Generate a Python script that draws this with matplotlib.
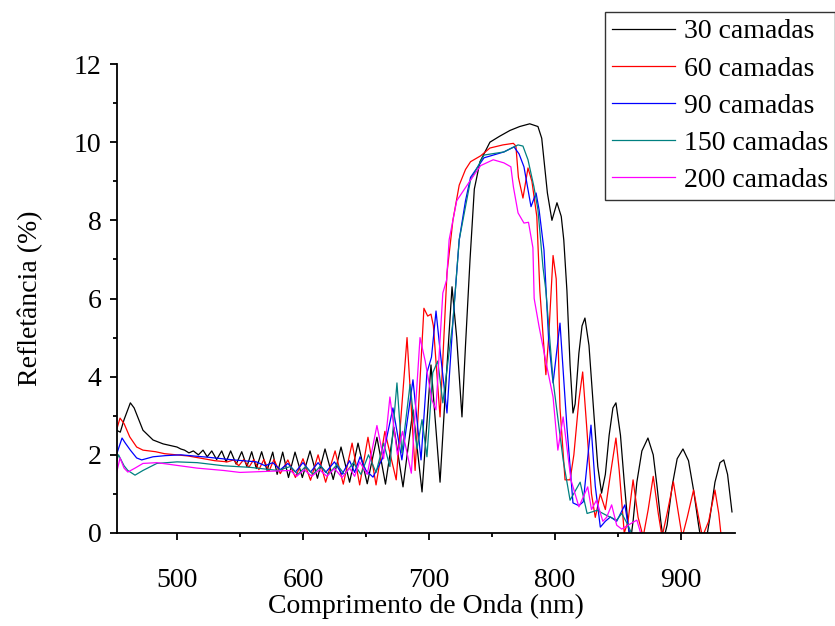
import matplotlib.pyplot as plt
from matplotlib.ticker import MultipleLocator

# comprimento de onda (nm) e refletancia (%)
wl_30 = [452, 455, 458, 463, 466, 473, 481, 489, 500, 503, 506, 509.5, 513, 517,
         520.7, 524, 527.6, 531.5, 535.5, 539, 542.6, 547, 551.4, 555.5, 559.3,
         563, 567.2, 571.5, 576, 579.5, 583.9, 588.5, 593.7, 599.5, 605.6, 611.5,
         617.5, 624, 630.2, 637, 643.7, 651, 658.7, 665.5, 672.2, 679.4, 687.3,
         694.5, 701.6, 708.8, 713, 718.3, 722, 726.2, 729, 732.6, 736, 740.5,
         748.4, 756, 764.3, 772, 780, 786.5, 789.5, 794, 797.6, 801.6, 805, 807,
         809.5, 812, 814.3, 816, 819, 821.5, 823.8, 827, 831, 834, 837, 840, 843,
         846, 848.4, 852, 855, 858, 860, 862, 865, 869, 873.8, 878, 881, 884, 886,
         889, 893, 897, 901.6, 906, 910, 914, 916, 920, 923, 927, 931, 934, 937,
         940.5]
r_30 = [2.63, 2.58, 2.9, 3.33, 3.2, 2.63, 2.38, 2.28, 2.2, 2.15, 2.12, 2.05, 2.1,
        2.0, 2.12, 1.95, 2.1, 1.88, 2.1, 1.82, 2.1, 1.76, 2.08, 1.7, 2.08, 1.65,
        2.08, 1.6, 2.07, 1.5, 2.07, 1.42, 2.07, 1.42, 2.1, 1.4, 2.15, 1.37, 2.2,
        1.3, 2.3, 1.26, 2.45, 1.25, 2.7, 1.18, 3.15, 1.05, 4.3, 1.3, 3.6, 6.3, 5.0,
        2.97, 4.8, 7.0, 8.8, 9.5, 10.0, 10.15, 10.3, 10.4, 10.47, 10.4, 10.1, 8.7,
        8.0, 8.45, 8.1, 7.5, 6.2, 4.3, 3.07, 3.3, 4.6, 5.3, 5.5, 4.8, 3.0, 1.7,
        1.02, 1.5, 2.5, 3.2, 3.33, 2.5, 1.3, 0.2, -0.2, 0.3, 1.3, 2.1, 2.43, 2.0,
        1.2, 0.3, -0.2, 0.2, 1.2, 1.9, 2.15, 1.85, 1.1, 0.2, -0.2, -0.2, 0.4, 1.3,
        1.8, 1.87, 1.5, 0.54]

wl_60 = [452, 454.8, 458, 462.5, 468, 473, 483, 490, 509, 530, 540, 545, 549, 553,
         557, 561, 565, 569, 573, 577, 582, 588, 594, 600, 606, 612, 618, 625.5,
         632, 639, 645, 651.6, 658, 665, 674, 682.6, 689, 696, 699, 701.6, 703.5,
         708.8, 714.3, 719, 724, 729, 733, 741, 748.4, 758.7, 767, 769, 771, 774.6,
         778.6, 781.7, 785.6, 788, 792.8, 795, 798.5, 801, 804, 808, 812, 815, 819,
         822, 825, 829, 832, 836, 840, 844, 848.4, 851, 855, 858, 862, 866, 870,
         874, 878, 882, 885, 889, 894, 898, 901, 905, 910, 914, 917, 922, 927, 930,
         932]
r_60 = [2.63, 2.94, 2.8, 2.46, 2.2, 2.12, 2.08, 2.03, 1.97, 1.85, 1.82, 1.87, 1.72,
        1.88, 1.68, 1.88, 1.62, 1.88, 1.58, 1.88, 1.52, 1.87, 1.42, 1.9, 1.35,
        2.0, 1.3, 2.1, 1.25, 2.3, 1.23, 2.45, 1.23, 2.6, 1.36, 5.0, 1.6, 5.75, 5.55,
        5.6, 5.3, 2.97, 6.65, 8.0, 8.9, 9.3, 9.5, 9.65, 9.85, 9.93, 9.97, 9.9, 9.1,
        8.57, 9.34, 9.0, 8.1, 6.2, 4.05, 5.0, 7.1, 6.5, 3.2, 1.36, 1.36, 2.0, 3.4,
        4.12, 2.8, 1.0, 0.4, 1.0, 0.6, 1.5, 2.43, 1.6, 0.0, 0.3, 1.36, 0.4, -0.1,
        0.6, 1.45, 0.5, -0.1, 0.5, 1.31, 0.5, -0.1, 0.4, 1.1, 0.4, -0.1, 0.3, 1.1,
        0.5, -0.1]

wl_90 = [452, 454, 456.4, 459, 463, 468, 472, 481, 491, 503, 524, 545, 563, 570,
         576, 582, 588, 594, 600, 606, 612, 618, 625, 631, 637, 641, 645.3, 650,
         655.6, 663, 671.4, 678.5, 687.3, 693.7, 698.4, 702, 705.6, 708.8, 714.3,
         719, 724, 729, 733, 743.7, 759.5, 767.5, 771.5, 775.4, 781, 785, 787.4,
         791.3, 795, 798.5, 804, 809.5, 814.3, 819, 822.5, 828.6, 832, 836, 840,
         844, 849, 855.5, 859.5]
r_90 = [2.0, 2.2, 2.43, 2.3, 2.12, 1.92, 1.87, 1.95, 1.98, 2.0, 1.94, 1.87, 1.82,
        1.72, 1.8, 1.62, 1.78, 1.56, 1.8, 1.56, 1.8, 1.55, 1.82, 1.5, 1.85, 1.55,
        1.95, 1.6, 1.43, 1.9, 3.2, 1.87, 3.92, 1.87, 4.1, 4.5, 5.68, 4.68, 3.07,
        5.4, 7.5, 8.5, 9.1, 9.6, 9.75, 9.88, 9.7, 9.37, 8.35, 8.7, 8.27, 7.24,
        4.94, 3.84, 5.37, 2.71, 0.77, 0.7, 0.8, 2.76, 1.2, 0.15, 0.3, 0.41, 0.3,
        0.72, -0.1]

wl_150 = [452, 453.6, 458, 461, 466.7, 473, 484, 500, 516, 537, 558, 580, 590,
          596, 602, 608, 614, 620, 627, 633, 640, 646, 652, 658, 664, 669, 674.6,
          678.5, 685, 690.5, 694.5, 698.4, 703, 707, 711, 719, 724, 733, 743.7,
          759.5, 770.7, 774.6, 778.6, 783.3, 786.5, 790.5, 792.8, 798.5, 806.5,
          812, 820, 825.5, 833.4, 841, 849, 853, 858, 862]
r_150 = [1.82, 2.0, 1.72, 1.6, 1.48, 1.6, 1.78, 1.82, 1.8, 1.72, 1.68, 1.6, 1.7,
         1.5, 1.7, 1.5, 1.72, 1.5, 1.75, 1.5, 1.8, 1.5, 2.0, 1.55, 2.3, 1.7, 3.84,
         2.05, 3.8, 2.15, 2.9, 1.95, 4.1, 4.4, 3.33, 5.4, 7.5, 9.03, 9.67, 9.75,
         9.93, 9.9, 9.55, 8.86, 8.27, 6.8, 6.2, 3.9, 1.87, 0.84, 1.3, 0.5, 0.58,
         0.45, 0.33, 0.5, 0.2, -0.1]

wl_200 = [452, 454.8, 458, 461, 466.7, 473, 484, 500, 516, 537, 550, 590, 595,
          601, 607, 613, 619, 625, 631, 637, 641, 645, 651, 658.7, 664, 669, 675,
          679, 686, 692.9, 697, 702.4, 705.5, 711, 714, 716, 722, 733, 741, 751,
          759.5, 765, 767, 770.7, 775.4, 779, 782.5, 783.5, 787.4, 793, 798.5,
          802.3, 806.5, 812.7, 819, 826, 829, 833, 838, 841, 845, 849, 853, 858,
          865, 868]
r_200 = [1.53, 1.92, 1.66, 1.56, 1.66, 1.78, 1.8, 1.73, 1.66, 1.6, 1.55, 1.6,
         1.45, 1.62, 1.45, 1.62, 1.45, 1.65, 1.42, 1.66, 1.45, 1.82, 1.5, 2.75, 1.9,
         3.48, 2.0, 2.6, 1.53, 5.0, 4.4, 3.4, 3.15, 6.14, 6.47, 7.5, 8.5, 9.03, 9.4,
         9.55, 9.47, 9.37, 8.86, 8.19, 7.93, 7.95, 7.3, 6.0, 5.28, 4.35, 3.48, 2.12,
         2.97, 1.36, 0.67, 1.18, 0.6, 0.84, 0.3, 0.4, 0.72, 0.2, 0.1, 0.2, 0.33, 0.0]

series = [
    (wl_30, r_30, 'black', '30 camadas'),
    (wl_60, r_60, 'red', '60 camadas'),
    (wl_90, r_90, 'blue', '90 camadas'),
    (wl_150, r_150, '#008080', '150 camadas'),
    (wl_200, r_200, 'magenta', '200 camadas'),
]

plt.rcParams['font.family'] = ['Liberation Serif', 'DejaVu Serif']
plt.rcParams['font.size'] = 20

fig = plt.figure(figsize=(8.35, 6.26), dpi=100)
ax = fig.add_axes([117 / 835, 93 / 626, 618 / 835, 469 / 626])

for x, y, c, lab in series:
    ax.plot(x, y, color=c, lw=0.9, label=lab)

ax.set_xlim(452.4, 942.9)
ax.set_ylim(0, 12)
ax.xaxis.set_major_locator(MultipleLocator(100))
ax.xaxis.set_minor_locator(MultipleLocator(50))
ax.yaxis.set_major_locator(MultipleLocator(2))
ax.yaxis.set_minor_locator(MultipleLocator(1))
ax.spines['top'].set_visible(False)
ax.spines['right'].set_visible(False)
ax.spines['left'].set_linewidth(1.3)
ax.spines['bottom'].set_linewidth(1.3)
ax.tick_params(which='major', direction='out', length=5, width=1.3, labelsize=20)
ax.tick_params(which='minor', direction='out', length=3, width=1.3)
ax.tick_params(axis='x', which='major', pad=20)
ax.tick_params(axis='y', which='major', pad=6)

ax.set_xlabel('Comprimento de Onda (nm)', fontsize=20, labelpad=1)
ax.set_ylabel('Refletância (%)', fontsize=20, labelpad=22)

leg = ax.legend(loc='upper right', bbox_to_anchor=(1.0, 1 - 12 / 626),
                bbox_transform=fig.transFigure, borderaxespad=0, fancybox=False,
                edgecolor='black', fontsize=20, handlelength=2.3,
                labelspacing=0.42, borderpad=0.25, handletextpad=0.3)
leg.get_frame().set_linewidth(1.0)

fig.savefig('out.png', dpi=100)
